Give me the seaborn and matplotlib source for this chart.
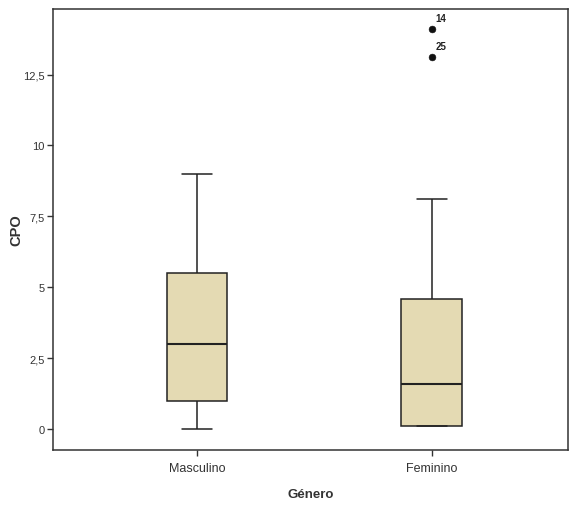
import numpy as np
import pandas as pd
import matplotlib
matplotlib.use("Agg")
import matplotlib.pyplot as plt
import seaborn as sns

# Data (five-number summaries per group)
categories = ["Masculino", "Feminino"]
masc_summary = [0.0, 1.0, 3.0, 5.5, 9.0]      # min, Q1, median, Q3, max
fem_summary = [0.1, 0.1, 1.6, 4.6, 8.1]
outlier_values = [14.1, 13.1]
outlier_labels = ["14", "25"]
yticks = [0, 2.5, 5, 7.5, 10, 12.5]
ytick_labels = ["0", "2,5", "5", "7,5", "10", "12,5"]

def summary_to_points(s):
    lo, q1, med, q3, hi = s
    return [lo, q1, q1, med, q3, q3, hi]

rows = []
for cat, s in zip(categories, [masc_summary, fem_summary]):
    for v in summary_to_points(s):
        rows.append({"Género": cat, "CPO": v})
df = pd.DataFrame(rows)
out_df = pd.DataFrame({"Género": ["Feminino"] * len(outlier_values),
                       "CPO": outlier_values})

sns.set_style("white")
plt.rcParams["font.family"] = ["Liberation Sans", "DejaVu Sans"]

fig = plt.figure(figsize=(5.70, 5.06), dpi=100)
ax = fig.add_axes([53 / 570, 1 - 451 / 506, (568 - 53) / 570, (451 - 10) / 506])

line_col = "#222222"
sns.boxplot(data=df, x="Género", y="CPO", order=categories, ax=ax,
            whis=(0, 100), width=0.256, color="#e4dab3", saturation=1,
            linewidth=1.1, linecolor=line_col,
            boxprops=dict(edgecolor=line_col),
            medianprops=dict(color=line_col, linewidth=1.5),
            showfliers=False)

sns.scatterplot(data=out_df, x="Género", y="CPO", ax=ax, color="#111111",
                s=24, edgecolor="#111111", zorder=5, legend=False)
for v, lab in zip(outlier_values, outlier_labels):
    ax.annotate(lab, xy=(1, v), xytext=(3, 6), textcoords="offset points",
                fontsize=7, fontweight="bold", color="#222222")

ax.set_xlim(-0.614, 1.582)
ax.set_ylim(-0.74, 14.81)
ax.set_yticks(yticks)
ax.set_yticklabels(ytick_labels)
ax.tick_params(axis="both", which="both", direction="out", length=4,
               width=1, color="#333333", labelsize=8, labelcolor="#333333",
               left=True, bottom=True, pad=2)
ax.tick_params(axis="x", labelsize=9, pad=5)
ax.set_xlabel("Género", fontsize=9.5, fontweight="bold", color="#333333", labelpad=10)
ax.set_ylabel("CPO", fontsize=10.5, fontweight="bold", color="#333333", labelpad=0)
for sp in ax.spines.values():
    sp.set_color("#333333")
    sp.set_linewidth(1.1)
    sp.set_visible(True)

fig.savefig("out.png", dpi=100)
